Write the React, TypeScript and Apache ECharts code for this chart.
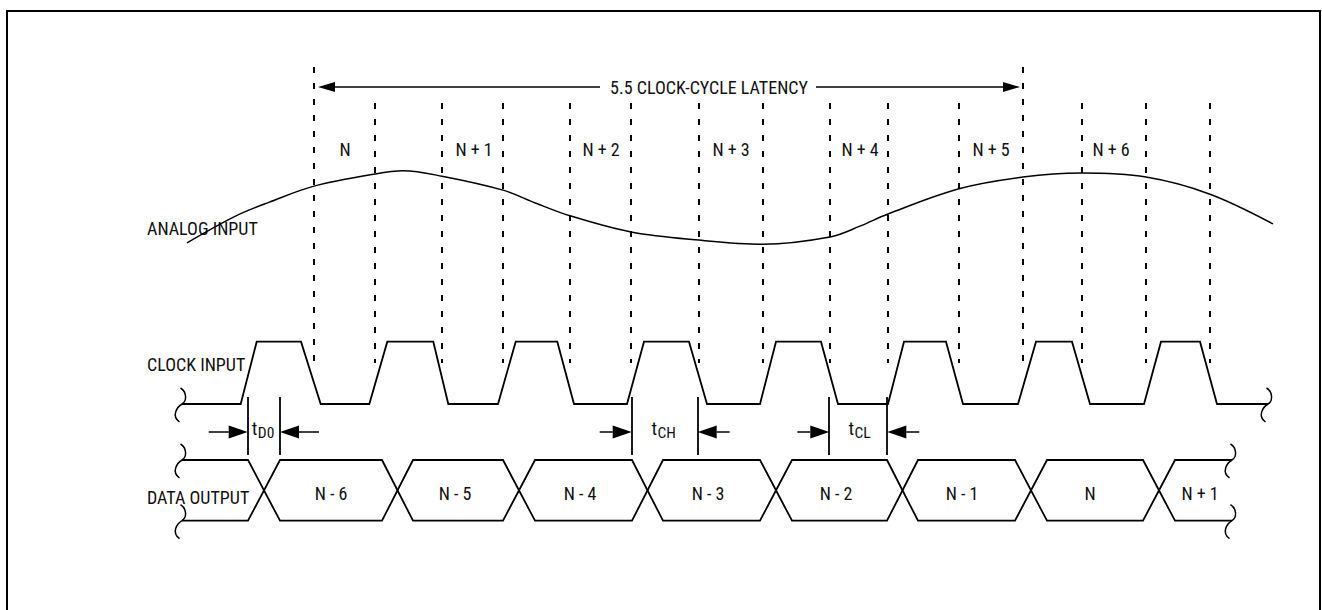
import React, { useEffect, useRef } from "react";
import * as echarts from "echarts";

const FONT = '"Liberation Sans Narrow", "Arial Narrow", "Roboto Condensed", "Liberation Sans", sans-serif';
const INK = "#111";
const FS = 18;

// Time axis in arbitrary time units (one clock period ≈ 12.9 units)
const T_MIN = -24;
const T_MAX = 108.2;

// ---- ANALOG INPUT ----
const analogTime = [-5.3, -0.4, 3.0, 7.4, 13.5, 16.3, 20.2, 26.3, 29.6, 33.0, 39.1, 45.9, 52.3, 59.0, 62.0, 64.8, 71.9, 78.3, 84.1, 90.6, 97.0, 103.3];
const analogLevel = [-0.84, -0.24, 0.07, 0.42, 0.69, 0.76, 0.64, 0.33, 0.04, -0.24, -0.6, -0.78, -0.87, -0.71, -0.47, -0.2, 0.36, 0.62, 0.71, 0.62, 0.24, -0.42];

// ---- CLOCK INPUT ----
const clockStart = -5.8;
const clockEnd = 102.8;
const clockRiseStart = [0.07, 12.93, 25.8, 38.7, 52.0, 64.8, 77.8, 90.4];
const clockRiseEnd = [1.67, 14.73, 27.57, 40.4, 53.6, 66.4, 79.6, 92.1];
const clockFallStart = [6.1, 19.33, 31.73, 44.9, 58.1, 70.6, 83.2, 96.0];
const clockFallEnd = [8.07, 20.83, 33.4, 46.7, 59.8, 72.3, 85.0, 97.7];

// ---- DATA OUTPUT ----
const dataStart = -5.8;
const dataEnd = 99.2;
const dataTransStart = [0.8, 14.2, 26.3, 39.2, 52.0, 64.7, 77.5, 90.3];
const dataTransEnd = [4.0, 17.3, 29.5, 42.3, 55.2, 67.8, 80.7, 93.5];
const dataWords = ["N - 6", "N - 5", "N - 4", "N - 3", "N - 2", "N - 1", "N", "N + 1"];
const dataWordTime = [9.1, 21.5, 34.0, 46.8, 59.6, 72.2, 85.0, 96.0];

// ---- Sampling instants & labels ----
const sampleEdgeTime = [7.4, 13.5, 20.2, 26.3, 33.0, 39.1, 45.9, 52.3, 59.0, 64.8, 71.9, 78.3, 84.2, 90.6, 97.0];
const sampleLabels = ["N", "N + 1", "N + 2", "N + 3", "N + 4", "N + 5", "N + 6"];
const sampleLabelTime = [10.5, 23.4, 36.1, 49.1, 62.0, 75.1, 87.1];

// ---- Latency annotation ----
const latencyText = "5.5 CLOCK-CYCLE LATENCY";
const latencyTextTime = 46.9;
const latencyLeftArrow = [36.0, 7.8];
const latencyRightArrow = [57.6, 78.0];
const latencyEdgeIndex = [0, 11];

// ---- Timing parameters ----
const timingSub = ["D0", "CH", "CL"];
const timingFrom = [0.77, 39.17, 58.93];
const timingTo = [4.0, 45.77, 64.73];
const timingTail = [3.9, 3.2, 3.2];
const timingLabelTime = [1.73, 41.7, 61.4];

const rowLabels = ["ANALOG INPUT", "CLOCK INPUT", "DATA OUTPUT"];

function buildClock() {
  const pts: number[][] = [[clockStart, 0]];
  for (let i = 0; i < clockRiseStart.length; i++) {
    pts.push([clockRiseStart[i], 0], [clockRiseEnd[i], 1], [clockFallStart[i], 1], [clockFallEnd[i], 0]);
  }
  pts.push([clockEnd, 0]);
  return pts;
}

function buildRail(startLevel: number) {
  const pts: number[][] = [[dataStart, startLevel]];
  let lv = startLevel;
  for (let i = 0; i < dataTransStart.length; i++) {
    pts.push([dataTransStart[i], lv]);
    lv = 1 - lv;
    pts.push([dataTransEnd[i], lv]);
  }
  pts.push([dataEnd, lv]);
  return pts;
}

const squiggleRender = (params: any, api: any) => {
  const p = api.coord([api.value(0), api.value(1)]);
  const cx = p[0];
  const cy = p[1];
  const st = { stroke: "#000", lineWidth: 1.5, fill: "none" };
  return {
    type: "group",
    children: [
      { type: "bezierCurve", shape: { x1: cx - 1.5, y1: cy - 16, cpx1: cx + 5, cpy1: cy - 12, cpx2: cx + 5, cpy2: cy - 3, x2: cx, y2: cy }, style: st },
      { type: "bezierCurve", shape: { x1: cx, y1: cy, cpx1: cx - 5, cpy1: cy + 3, cpx2: cx - 11, cpy2: cy + 12, x2: cx - 2.5, y2: cy + 18 }, style: st },
    ],
  };
};

const vlineRender = (dash: number[] | null, width: number) => (params: any, api: any) => {
  const a = api.coord([api.value(0), api.value(1)]);
  const b = api.coord([api.value(0), api.value(2)]);
  const x = Math.round(a[0]);
  return {
    type: "line",
    shape: { x1: x, y1: a[1], x2: x, y2: b[1] },
    style: { stroke: "#000", lineWidth: width, lineDash: dash || undefined },
  };
};

const arrowRender = (params: any, api: any) => {
  const a = api.coord([api.value(0), api.value(2)]);
  const b = api.coord([api.value(1), api.value(2)]);
  const L = api.value(3);
  const W = api.value(4);
  const d = b[0] > a[0] ? 1 : -1;
  const bx = b[0] - d * L;
  return {
    type: "group",
    children: [
      { type: "line", shape: { x1: a[0], y1: a[1], x2: bx, y2: b[1] }, style: { stroke: "#000", lineWidth: 1.5 } },
      { type: "polygon", shape: { points: [[b[0], b[1]], [bx, b[1] - W], [bx, b[1] + W]] }, style: { fill: "#000" } },
    ],
  };
};

const textRender = (texts: string[], size: number) => (params: any, api: any) => {
  const p = api.coord([api.value(0), api.value(1)]);
  return {
    type: "text",
    x: p[0],
    y: p[1],
    style: {
      text: texts[params.dataIndex],
      fill: INK,
      fontSize: size,
      fontFamily: FONT,
      align: "center",
      verticalAlign: "middle",
    },
  };
};

const timingLabelRender = (params: any, api: any) => {
  const p = api.coord([api.value(0), api.value(1)]);
  const i = params.dataIndex;
  return {
    type: "group",
    children: [
      { type: "text", x: p[0], y: p[1], style: { text: "t", fill: INK, fontSize: 19, fontFamily: FONT, align: "right", verticalAlign: "middle" } },
      { type: "text", x: p[0] + 0.5, y: p[1] + 4, style: { text: timingSub[i], fill: INK, fontSize: 15.5, fontFamily: FONT, align: "left", verticalAlign: "middle" } },
    ],
  };
};

export default function App() {
  const ref = useRef<HTMLDivElement>(null);

  useEffect(() => {
    if (!ref.current) return;
    const chart = echarts.init(ref.current, null, { renderer: "svg" });

    const xBase = { type: "value", min: T_MIN, max: T_MAX, show: false };
    const dashData = sampleEdgeTime.map((t, i) =>
      latencyEdgeIndex.includes(i) ? [t, 67, i === 0 ? 370 : 363] : [t, 103, 363]
    );
    const arrowData: number[][] = [
      [latencyLeftArrow[0], latencyLeftArrow[1], 87, 17, 5],
      [latencyRightArrow[0], latencyRightArrow[1], 87, 17, 5],
    ];
    timingFrom.forEach((t, i) => {
      arrowData.push([t - timingTail[i], t, 432, 19, 6.5]);
      arrowData.push([timingTo[i] + timingTail[i], timingTo[i], 432, 19, 6.5]);
    });
    const markerData: number[][] = [];
    timingFrom.forEach((t, i) => {
      markerData.push([t, 397, 455]);
      markerData.push([timingTo[i], 397, 455]);
    });

    const lineStyle = { color: "#000", width: 1.8, join: "miter", cap: "butt" };

    const option: any = {
      animation: false,
      backgroundColor: "#fff",
      grid: [
        { left: 0, right: 0, top: 0, bottom: 0 },
        { left: 0, right: 0, top: 160, height: 90 },
        { left: 0, right: 0, top: 341.7, height: 62.3 },
        { left: 0, right: 0, top: 460, height: 60.7 },
      ],
      xAxis: [0, 1, 2, 3].map((g) => ({ ...xBase, gridIndex: g })),
      yAxis: [
        { type: "value", gridIndex: 0, min: 0, max: 610, inverse: true, show: false },
        { type: "value", gridIndex: 1, min: -1, max: 1, show: false },
        { type: "value", gridIndex: 2, min: 0, max: 1, show: false },
        { type: "value", gridIndex: 3, min: 0, max: 1, show: false },
      ],
      graphic: [
        { type: "rect", shape: { x: 7, y: 11, width: 1313, height: 700 }, style: { fill: "none", stroke: "#000", lineWidth: 2 } },
        ...rowLabels.map((t, i) => ({
          type: "text",
          x: 147,
          y: [228, 364, 497][i],
          style: { text: t, fill: INK, fontSize: FS, fontFamily: FONT, align: "left", verticalAlign: "middle" },
        })),
      ],
      series: [
        {
          name: "Analog input",
          type: "line",
          xAxisIndex: 1,
          yAxisIndex: 1,
          data: analogTime.map((t, i) => [t, analogLevel[i]]),
          smooth: 0.35,
          showSymbol: false,
          clip: false,
          lineStyle: { color: "#000", width: 1.5 },
        },
        {
          name: "Clock input",
          type: "line",
          xAxisIndex: 2,
          yAxisIndex: 2,
          data: buildClock(),
          showSymbol: false,
          clip: false,
          lineStyle,
        },
        {
          name: "Data rail A",
          type: "line",
          xAxisIndex: 3,
          yAxisIndex: 3,
          data: buildRail(1),
          showSymbol: false,
          clip: false,
          lineStyle,
        },
        {
          name: "Data rail B",
          type: "line",
          xAxisIndex: 3,
          yAxisIndex: 3,
          data: buildRail(0),
          showSymbol: false,
          clip: false,
          lineStyle,
        },
        {
          name: "Clock breaks",
          type: "custom",
          xAxisIndex: 2,
          yAxisIndex: 2,
          clip: false,
          data: [[clockStart, 0], [clockEnd, 0]],
          renderItem: squiggleRender,
        },
        {
          name: "Data breaks",
          type: "custom",
          xAxisIndex: 3,
          yAxisIndex: 3,
          clip: false,
          data: [[dataStart, 1], [dataStart, 0], [dataEnd, 1], [dataEnd, 0]],
          renderItem: squiggleRender,
        },
        {
          name: "Sampling edges",
          type: "custom",
          xAxisIndex: 0,
          yAxisIndex: 0,
          clip: false,
          data: dashData,
          renderItem: vlineRender([6, 10], 2),
        },
        {
          name: "Timing markers",
          type: "custom",
          xAxisIndex: 0,
          yAxisIndex: 0,
          clip: false,
          data: markerData,
          renderItem: vlineRender(null, 1.8),
        },
        {
          name: "Arrows",
          type: "custom",
          xAxisIndex: 0,
          yAxisIndex: 0,
          clip: false,
          data: arrowData,
          renderItem: arrowRender,
        },
        {
          name: "Sample labels",
          type: "custom",
          xAxisIndex: 0,
          yAxisIndex: 0,
          clip: false,
          data: sampleLabelTime.map((t) => [t, 149]),
          renderItem: textRender(sampleLabels, FS),
        },
        {
          name: "Latency label",
          type: "custom",
          xAxisIndex: 0,
          yAxisIndex: 0,
          clip: false,
          data: [[latencyTextTime, 87]],
          renderItem: textRender([latencyText], FS),
        },
        {
          name: "Data words",
          type: "custom",
          xAxisIndex: 0,
          yAxisIndex: 0,
          clip: false,
          data: dataWordTime.map((t) => [t, 493]),
          renderItem: textRender(dataWords, FS),
        },
        {
          name: "Timing labels",
          type: "custom",
          xAxisIndex: 0,
          yAxisIndex: 0,
          clip: false,
          data: timingLabelTime.map((t) => [t, 428.5]),
          renderItem: timingLabelRender,
        },
      ],
    };

    chart.setOption(option);
    return () => chart.dispose();
  }, []);

  return (
    <div
      ref={ref}
      style={{ position: "absolute", left: 0, top: 0, width: 1322, height: 610, background: "#fff" }}
    />
  );
}
